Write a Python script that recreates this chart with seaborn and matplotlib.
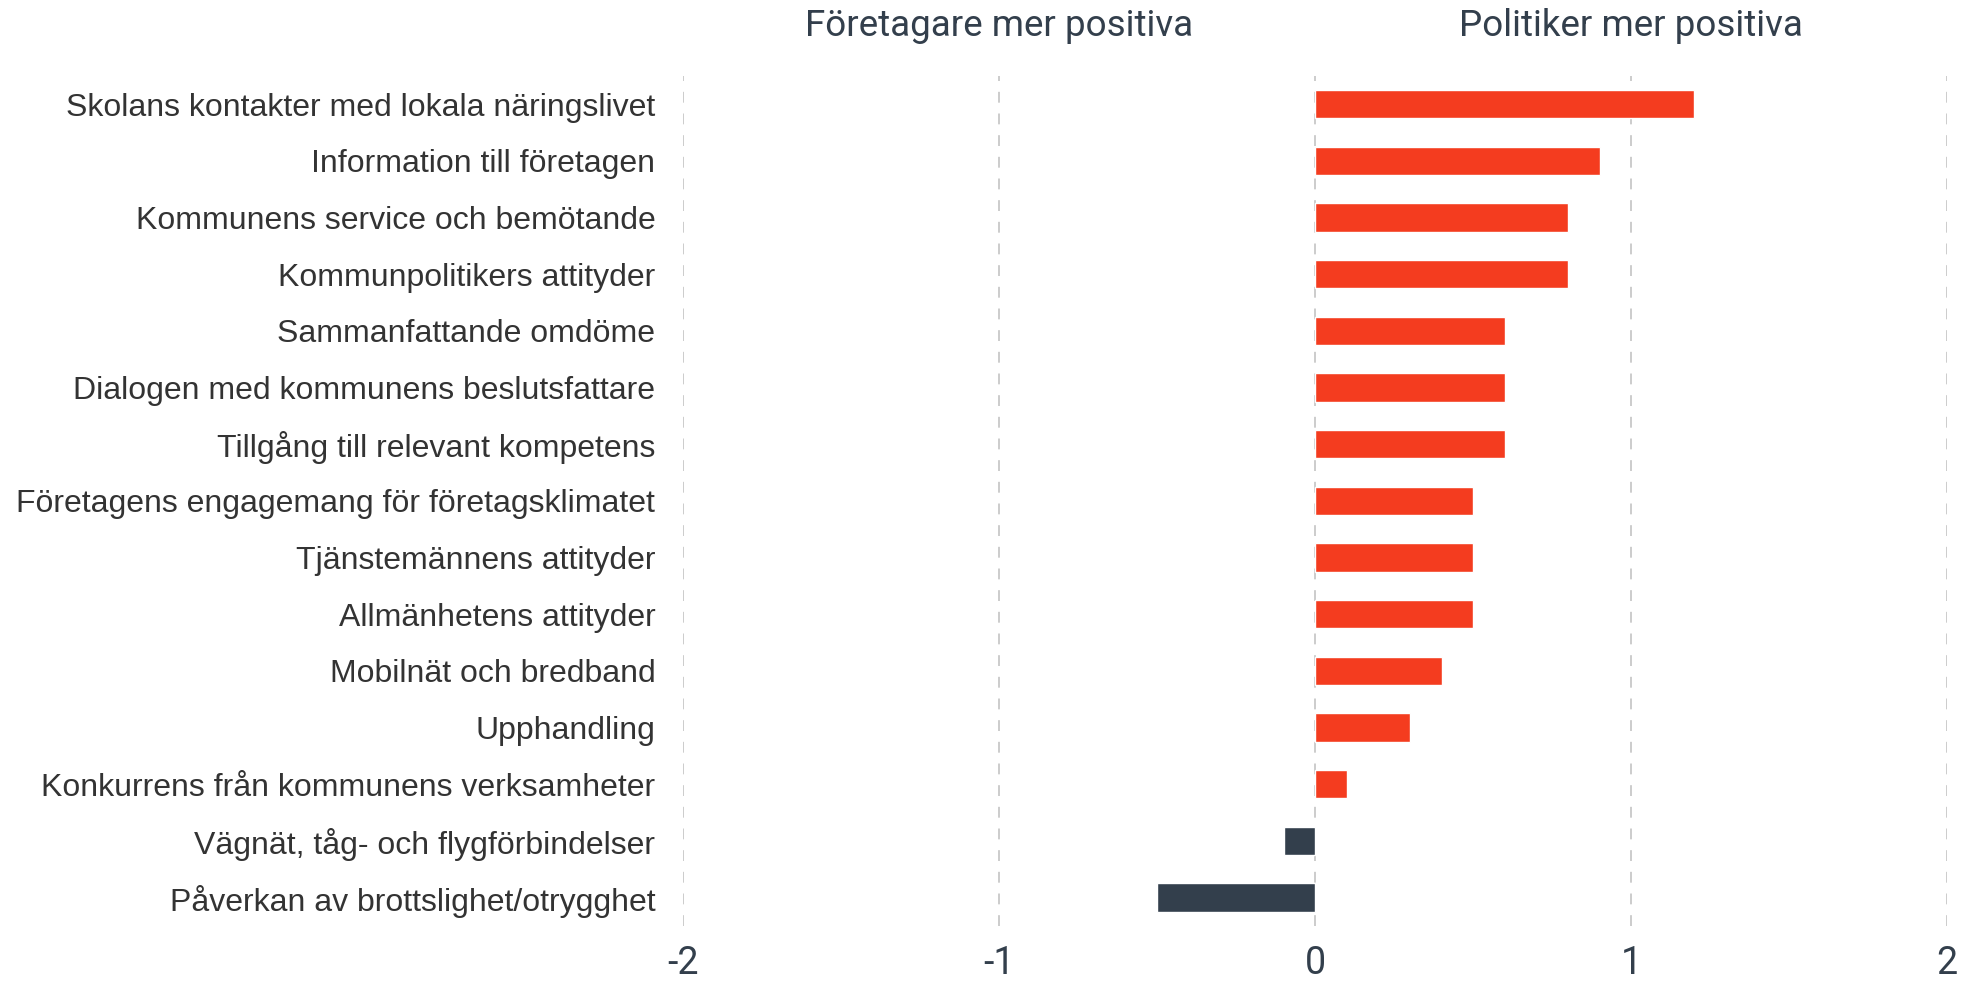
import pandas as pd
import matplotlib.pyplot as plt
import matplotlib.transforms as mtransforms
import seaborn as sns

# Data
categories = [
    'Skolans kontakter med lokala näringslivet',
    'Information till företagen',
    'Kommunens service och bemötande',
    'Kommunpolitikers attityder',
    'Sammanfattande omdöme',
    'Dialogen med kommunens beslutsfattare',
    'Tillgång till relevant kompetens',
    'Företagens engagemang för företagsklimatet',
    'Tjänstemännens attityder',
    'Allmänhetens attityder',
    'Mobilnät och bredband',
    'Upphandling',
    'Konkurrens från kommunens verksamheter',
    'Vägnät, tåg- och flygförbindelser',
    'Påverkan av brottslighet/otrygghet',
]
differences = [1.2, 0.9, 0.8, 0.8, 0.6, 0.6, 0.6, 0.5, 0.5, 0.5, 0.4, 0.3, 0.1, -0.1, -0.5]
x_ticks = [-2, -1, 0, 1, 2]
x_tick_labels = ['-2', '-1', '0', '1', '2']
header_pos = [-1, 1]
header_labels = ['Företagare mer positiva', 'Politiker mer positiva']

df = pd.DataFrame({'Kategori': categories, 'Skillnad': differences})
df['Sida'] = ['Politiker' if v >= 0 else 'Företagare' for v in df['Skillnad']]

red = '#F43C1F'
dark = '#333F4C'

sns.set_style('white')
plt.rcParams['font.family'] = ['Roboto', 'DejaVu Sans']

fig = plt.figure(figsize=(19.63, 9.85), dpi=100)
ax = fig.add_axes([0.348, 0.06, 0.644, 0.863])

sns.barplot(data=df, x='Skillnad', y='Kategori', hue='Sida',
            palette={'Politiker': red, 'Företagare': dark},
            orient='h', width=0.5, dodge=False, legend=False, ax=ax,
            saturation=1, zorder=3)

ax.set_xlim(-2, 2)
ax.set_ylim(14.5, -0.5)
ax.set_xticks(x_ticks)
ax.set_xticklabels(x_tick_labels, fontsize=27, color=dark)
ax.tick_params(axis='x', length=0, pad=14)
ax.tick_params(axis='y', length=0, pad=20, labelsize=23, labelcolor='#333333')
for lab in ax.get_yticklabels():
    lab.set_family(['Liberation Sans', 'DejaVu Sans'])
ax.set_xlabel('')
ax.set_ylabel('')
for s in ax.spines.values():
    s.set_visible(False)
ax.grid(False)
for t in x_ticks:
    ax.axvline(t, color='#c8c8c8', linestyle=(0, (6, 6)), linewidth=1.3, zorder=1)

# Header annotations above the plot
trans = mtransforms.blended_transform_factory(ax.transData, fig.transFigure)
for pos, lab in zip(header_pos, header_labels):
    ax.text(pos, 0.974, lab, transform=trans, ha='center', va='center',
            fontsize=26.5, color=dark)

fig.savefig('out.png', dpi=100)
